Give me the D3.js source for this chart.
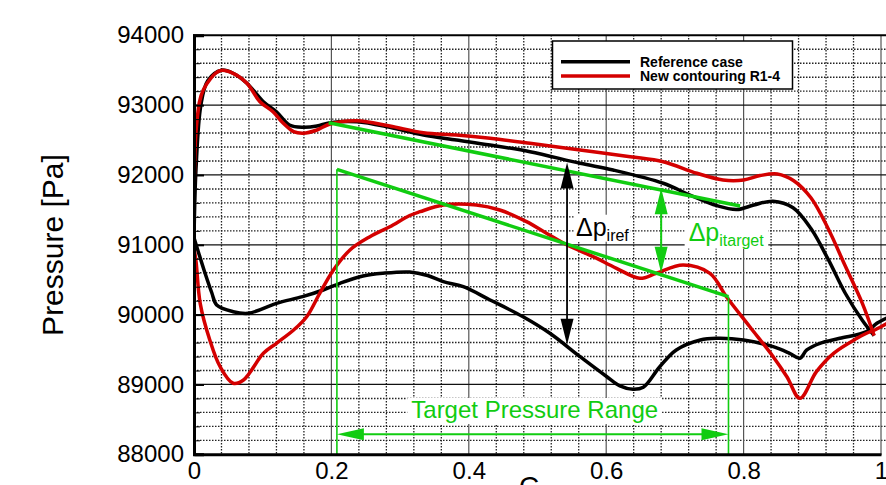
<!DOCTYPE html>
<html>
<head>
<meta charset="utf-8">
<script src="https://cdn.jsdelivr.net/npm/d3@7"></script>
<style>
  body { margin: 0; background: #fff; }
  svg { display: block; font-family: "Liberation Sans", Arial, sans-serif; }
</style>
</head>
<body>
<script>
// pressure along the chord, [x, p] pairs
var refUpper = [[0.0, 91100], [0.003, 92100], [0.01, 93000], [0.02, 93350], [0.04, 93500], [0.057, 93456],
  [0.077, 93313], [0.101, 93049], [0.12, 92906], [0.139, 92716], [0.159, 92683], [0.179, 92701], [0.198, 92749],
  [0.237, 92763], [0.285, 92683], [0.334, 92572], [0.382, 92501], [0.431, 92429], [0.489, 92333], [0.562, 92167],
  [0.61, 92071], [0.683, 91881], [0.722, 91713], [0.761, 91560], [0.79, 91505], [0.815, 91570], [0.843, 91625],
  [0.872, 91530], [0.898, 91233], [0.923, 90794], [0.948, 90306], [0.973, 89915], [0.99, 89700]];

var refLower = [[0.0, 91100], [0.004, 90973], [0.016, 90596], [0.026, 90310], [0.033, 90138], [0.057, 90042],
  [0.079, 90019], [0.12, 90162], [0.158, 90257], [0.188, 90353], [0.2125, 90449], [0.246, 90553], [0.275, 90592],
  [0.314, 90610], [0.34, 90560], [0.363, 90472], [0.392, 90400], [0.431, 90210], [0.479, 89970], [0.518, 89733],
  [0.562, 89398], [0.601, 89111], [0.62, 88980], [0.639, 88931], [0.654, 88960], [0.678, 89254], [0.702, 89494],
  [0.737, 89637], [0.761, 89661], [0.8, 89637], [0.843, 89541], [0.867, 89446], [0.882, 89375], [0.892, 89494],
  [0.911, 89590], [0.94, 89661], [0.979, 89756], [0.994, 89876], [1.01, 89960]];

var newUpper = [[0.0, 90950], [0.004, 92740], [0.0135, 93217], [0.038, 93493], [0.057, 93456], [0.077, 93313],
  [0.096, 93049], [0.115, 92906], [0.13, 92740], [0.145, 92620], [0.159, 92597], [0.179, 92644], [0.198, 92730],
  [0.237, 92777], [0.285, 92701], [0.334, 92605], [0.382, 92572], [0.431, 92525], [0.489, 92454], [0.562, 92358],
  [0.635, 92262], [0.683, 92190], [0.732, 92024], [0.77, 91928], [0.8, 91928], [0.824, 91991], [0.849, 92015],
  [0.873, 91918], [0.898, 91673], [0.923, 91233], [0.948, 90696], [0.973, 90158], [0.99, 89700]];

var newLower = [[0.0, 90950], [0.003, 90758], [0.009, 90162], [0.023, 89637], [0.038, 89254], [0.057, 89017],
  [0.072, 89064], [0.101, 89446], [0.12, 89590], [0.145, 89780], [0.164, 89970], [0.183, 90305], [0.203, 90639],
  [0.227, 90926], [0.256, 91116], [0.285, 91259], [0.314, 91420], [0.329, 91474], [0.363, 91570], [0.411, 91570],
  [0.445, 91498], [0.484, 91331], [0.513, 91165], [0.543, 90997], [0.581, 90830], [0.615, 90663], [0.649, 90520],
  [0.673, 90592], [0.712, 90711], [0.751, 90592], [0.775, 90257], [0.809, 89827], [0.843, 89398], [0.863, 89111],
  [0.882, 88802], [0.906, 89183], [0.931, 89446], [0.965, 89661], [0.979, 89733], [0.991, 89780], [1.01, 89880]];

// green target lines and annotations
var targetUpper = [[0.196, 92749], [0.795, 91556]];
var targetLower = [[0.208, 92081], [0.778, 90257]];
var rangeX = [0.208, 0.778];
var rangeArrowP = 88286;
var refArrow = [0.543, 92180, 89570];
var targetArrow = [0.68, 91810, 90600];

var xTicks = [0, 0.2, 0.4, 0.6, 0.8, 1];
var yTicks = [88000, 89000, 90000, 91000, 92000, 93000, 94000];
var seriesNames = ["Reference case", "New contouring R1-4"];
var colors = ["#000", "#d40000"];
var green = "#11cc11";

var W = 886, H = 485;
var x = d3.scaleLinear().domain([0, 1]).range([194, 881]);
var y = d3.scaleLinear().domain([88000, 94000]).range([454.3, 35.3]);

var svg = d3.select("body").append("svg")
    .attr("width", W)
    .attr("height", H);

svg.append("defs").append("clipPath").attr("id", "clip")
  .append("rect").attr("x", 194).attr("y", 35).attr("width", W - 194).attr("height", 420);

var plot = svg.append("g").attr("clip-path", "url(#clip)");

// grid
var xMinor = d3.range(1, 27).map(i => i * 0.04).filter(v => Math.abs(v * 5 - Math.round(v * 5)) > 1e-6);
var yMinor = d3.range(88200, 94000, 200).filter(v => v % 1000 !== 0);

plot.selectAll(".xminor").data(xMinor).enter().append("line")
    .attr("x1", d => x(d)).attr("x2", d => x(d))
    .attr("y1", 35).attr("y2", 455)
    .attr("stroke", "#222").attr("stroke-width", 1.3).attr("stroke-dasharray", "1.5,1.5");

plot.selectAll(".yminor").data(yMinor).enter().append("line")
    .attr("x1", 194).attr("x2", W)
    .attr("y1", d => y(d)).attr("y2", d => y(d))
    .attr("stroke", "#222").attr("stroke-width", 1.4).attr("stroke-dasharray", "1.5,1.5");

plot.selectAll(".xmajor").data(xTicks.slice(1)).enter().append("line")
    .attr("x1", d => x(d)).attr("x2", d => x(d))
    .attr("y1", 35).attr("y2", 455)
    .attr("stroke", "#555").attr("stroke-width", 1.2);

plot.selectAll(".ymajor").data(yTicks.slice(1, -1)).enter().append("line")
    .attr("x1", 194).attr("x2", W)
    .attr("y1", d => y(d)).attr("y2", d => y(d))
    .attr("stroke", "#111").attr("stroke-width", 1.3);

// white boxes behind labels, filled after text is measured
var boxes = svg.append("g");

var line = d3.line()
    .x(d => x(d[0]))
    .y(d => y(d[1]))
    .curve(d3.curveCatmullRom.alpha(0.5));

[[refUpper, refLower], [newUpper, newLower]].forEach(function (pair, i) {
  pair.forEach(function (s) {
    plot.append("path")
        .datum(s)
        .attr("fill", "none")
        .attr("stroke", colors[i])
        .attr("stroke-width", 3.5)
        .attr("stroke-linejoin", "round")
        .attr("d", line);
  });
});

// green target lines
[targetUpper, targetLower].forEach(function (s) {
  plot.append("path")
      .datum(s)
      .attr("fill", "none")
      .attr("stroke", green)
      .attr("stroke-width", 3.5)
      .attr("d", d3.line().x(d => x(d[0])).y(d => y(d[1])));
});

plot.selectAll(".rangev").data(rangeX).enter().append("line")
    .attr("x1", d => x(d)).attr("x2", d => x(d))
    .attr("y1", (d, i) => y(i === 0 ? targetLower[0][1] : targetLower[1][1]))
    .attr("y2", 455)
    .attr("stroke", green).attr("stroke-width", 1.6);

function arrowHead(g, tipX, tipY, dx, dy, col, len, half) {
  // dx, dy: unit direction the tip points to
  var bx = tipX - dx * len, by = tipY - dy * len;
  var px = -dy * half, py = dx * half;
  g.append("polygon")
      .attr("points", [[tipX, tipY], [bx + px, by + py], [bx - px, by - py]].map(p => p.join(",")).join(" "))
      .attr("fill", col);
}

function doubleArrowV(xv, p1, p2, col, w) {
  var x0 = x(xv), y1 = y(p1), y2 = y(p2);
  plot.append("line").attr("x1", x0).attr("x2", x0).attr("y1", y1 + 10).attr("y2", y2 - 10)
      .attr("stroke", col).attr("stroke-width", w);
  arrowHead(plot, x0, y1, 0, -1, col, 26, 6.5);
  arrowHead(plot, x0, y2, 0, 1, col, 26, 6.5);
}

doubleArrowV(refArrow[0], refArrow[1], refArrow[2], "#000", 1.8);
doubleArrowV(targetArrow[0], targetArrow[1], targetArrow[2], green, 2);

// target range arrow
var ya = y(rangeArrowP);
plot.append("line").attr("x1", x(rangeX[0]) + 10).attr("x2", x(rangeX[1]) - 10)
    .attr("y1", ya).attr("y2", ya).attr("stroke", green).attr("stroke-width", 2);
arrowHead(plot, x(rangeX[0]), ya, -1, 0, green, 27, 6);
arrowHead(plot, x(rangeX[1]), ya, 1, 0, green, 27, 6);

// labels
var labels = svg.append("g");
var rangeText = labels.append("text")
    .attr("x", x((rangeX[0] + rangeX[1]) / 2) + 2)
    .attr("y", y(88520))
    .attr("text-anchor", "middle")
    .attr("font-size", 24)
    .attr("fill", green)
    .text("Target Pressure Range");

function deltaLabel(xv, pv, sub, col) {
  var t = labels.append("text")
      .attr("x", x(xv)).attr("y", y(pv))
      .attr("font-size", 25)
      .attr("fill", col);
  t.append("tspan").text("\u0394p");
  t.append("tspan").attr("font-size", 16).attr("dy", 5).text(sub);
  return t;
}
var refText = deltaLabel(0.556, 91130, "iref", "#000");
var tgtText = deltaLabel(0.72, 91060, "itarget", green);

[[rangeText, 4, 3], [refText, 1, 0], [tgtText, 4, 2]].forEach(function (e) {
  var b = e[0].node().getBBox();
  boxes.append("rect")
      .attr("x", b.x - e[1]).attr("y", b.y + 2)
      .attr("width", b.width + 2 * e[1]).attr("height", b.height - 4 + e[2])
      .attr("fill", "#fff");
});

// axes
var yAxis = svg.append("g")
    .attr("transform", "translate(194,0)")
    .call(d3.axisLeft(y).tickValues(yTicks).tickSize(-10).tickPadding(10).tickFormat(d3.format("d")));
svg.append("g")
    .attr("transform", "translate(194,0)")
    .call(d3.axisLeft(y).tickValues(yMinor).tickSize(-6).tickFormat(""))
    .call(g => g.select(".domain").remove());
yAxis.selectAll("text").attr("font-size", 24).attr("font-family", "Liberation Sans, Arial, sans-serif").attr("fill", "#000");
yAxis.selectAll(".tick line").attr("stroke-width", 2);
yAxis.select(".domain").attr("stroke-width", 3);

var xAxis = svg.append("g")
    .attr("transform", "translate(0,454.3)")
    .call(d3.axisBottom(x).tickValues(xTicks).tickSize(0).tickPadding(8)
      .tickFormat(d => (d === 0 || d === 1) ? d : d.toFixed(1)));
xAxis.selectAll("text").attr("font-size", 24).attr("font-family", "Liberation Sans, Arial, sans-serif").attr("fill", "#000");
xAxis.select(".domain").attr("stroke-width", 3);

svg.append("line").attr("x1", 193).attr("x2", W).attr("y1", 35.3).attr("y2", 35.3)
    .attr("stroke", "#000").attr("stroke-width", 2);

svg.append("text")
    .attr("transform", "translate(63,245) rotate(-90)")
    .attr("text-anchor", "middle")
    .attr("font-size", 30)
    .text("Pressure [Pa]");

svg.append("text")
    .attr("x", 519).attr("y", 496)
    .attr("font-size", 28)
    .text("C");

// legend
var lg = svg.append("g");
lg.append("rect").attr("x", 552.5).attr("y", 41).attr("width", 240).attr("height", 48)
    .attr("fill", "#fff").attr("stroke", "#000").attr("stroke-width", 1.5);
seriesNames.forEach(function (n, i) {
  var yy = 61.7 + i * 14.3;
  lg.append("line").attr("x1", 561).attr("x2", 630).attr("y1", yy).attr("y2", yy)
      .attr("stroke", colors[i]).attr("stroke-width", 3.5);
  lg.append("text").attr("x", 640).attr("y", yy + 4.8)
      .attr("font-size", 14).attr("font-weight", "bold").text(n);
});
</script>
</body>
</html>
